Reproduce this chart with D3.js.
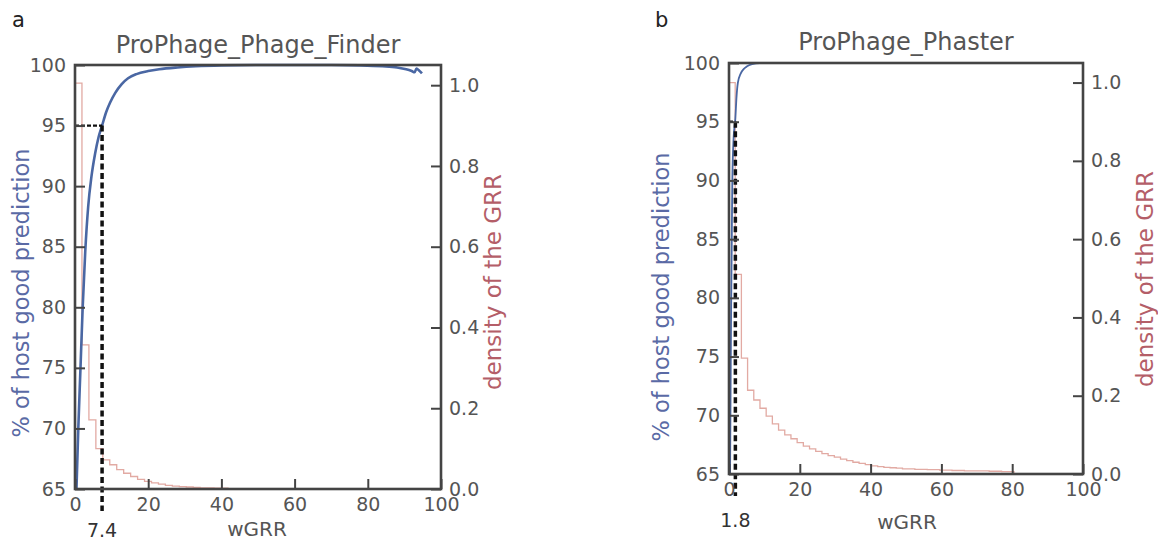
<!DOCTYPE html>
<html>
<head>
<meta charset="utf-8">
<script src="https://cdn.jsdelivr.net/npm/d3@7"></script>
<style>
html,body{margin:0;padding:0;background:#fff;}
svg{display:block;}
text{font-family:"DejaVu Sans",sans-serif;}
</style>
</head>
<body>
<svg id="chart" width="1158" height="548"></svg>
<script>
// ---------- data ----------
const xTicks = [0, 20, 40, 60, 80, 100];
const leftTicks = [65, 70, 75, 80, 85, 90, 95, 100];
const rightTicks = [0.0, 0.2, 0.4, 0.6, 0.8, 1.0];

// Panel a: ProPhage_Phage_Finder
const titleA = "ProPhage_Phage_Finder";
const curveA_x = [0.4, 0.9, 1.5, 2.1, 2.8, 3.6, 4.5, 5.5, 6.4, 7.4, 8.5, 9.6, 11.0, 12.7, 14.5, 16.8, 20, 23, 28, 33, 40, 50, 60, 70, 78, 84, 88, 90.5, 92, 92.8, 93.3, 94, 94.8];
const curveA_y = [65, 70, 75, 80, 84.6, 88.3, 90.8, 92.7, 94.0, 95, 96.1, 96.9, 97.7, 98.4, 98.9, 99.25, 99.5, 99.65, 99.8, 99.9, 99.97, 100, 100, 100, 99.97, 99.9, 99.8, 99.65, 99.5, 99.4, 99.7, 99.55, 99.3];
const histA_edges = [0, 1.9, 3.8, 5.7, 7.6, 9.5, 11.4, 13.3, 15.2, 17.1, 19, 20.9, 22.8, 24.7, 26.6, 28.5, 30.4, 32.3, 34.2, 36.1, 38, 39.9, 41.8, 43.7, 45.6];
const histA_vals  = [1.005, 0.357, 0.171, 0.100, 0.072, 0.060, 0.048, 0.039, 0.031, 0.024, 0.019, 0.015, 0.012, 0.009, 0.007, 0.006, 0.005, 0.004, 0.003, 0.003, 0.002, 0.002, 0.001, 0.001];
const thresholdA = 7.4;
const thresholdA_label = "7.4";

// Panel b: ProPhage_Phaster
const titleB = "ProPhage_Phaster";
const curveB_x = [0.3, 0.45, 0.6, 0.76, 0.93, 1.3, 1.8, 2.1, 2.5, 3.3, 4.2, 5.0, 6.5, 8.7, 30, 60, 100];
const curveB_y = [65, 72, 79, 84, 89.8, 93.6, 95.3, 97.0, 98.3, 99.1, 99.5, 99.7, 99.9, 100, 100, 100, 100];
const histB_edges = [0, 1.75, 3.5, 5.25, 7.0, 8.75, 10.5, 12.25, 14.0, 15.75, 17.5, 19.25, 21.0, 22.75, 24.5, 26.25, 28.0, 29.75, 31.5, 33.25, 35.0, 36.75, 38.5, 40.25, 42.0, 43.75, 45.5, 47.25, 49.0, 52.5, 56.0, 59.5, 63.0, 66.5, 70.0, 73.5, 77.0, 80.5];
const histB_vals  = [1.0, 0.51, 0.296, 0.214, 0.189, 0.168, 0.148, 0.128, 0.112, 0.100, 0.090, 0.080, 0.071, 0.064, 0.058, 0.052, 0.047, 0.043, 0.038, 0.034, 0.030, 0.027, 0.024, 0.021, 0.019, 0.017, 0.016, 0.015, 0.013, 0.012, 0.011, 0.010, 0.009, 0.008, 0.008, 0.007, 0.006];
const thresholdB = 1.8;
const thresholdB_label = "1.8";

const xLabel = "wGRR";
const leftLabel = "% of host good prediction";
const rightLabel = "density of the GRR";

// ---------- styles ----------
const AXIS = "#444";
const TXT = "#555";
const BLUE = "#4a67a3";
const BLUE_LBL = "#5a6aa5";
const RED_LBL = "#b45e68";
const HIST = "#e2aaa3";

const svg = d3.select("#chart");

function panel(cfg) {
  const x = d3.scaleLinear().domain([0, 100]).range([cfg.left, cfg.right]);
  const y = d3.scaleLinear().domain([65, 100]).range([cfg.bottom, cfg.top]);
  const y2 = d3.scaleLinear().domain([0, 1.05]).range([cfg.bottom, cfg.top]);
  const g = svg.append("g");

  // histogram (step outline)
  const pts = [[cfg.histEdges[0], 0]];
  cfg.histVals.forEach((v, i) => {
    pts.push([cfg.histEdges[i], v]);
    pts.push([cfg.histEdges[i + 1], v]);
  });
  pts.push([cfg.histEdges[cfg.histEdges.length - 1], 0]);
  g.append("path")
    .attr("d", d3.line().x(d => x(d[0])).y(d => y2(d[1]))(pts))
    .attr("fill", "none").attr("stroke", HIST).attr("stroke-width", 1.3);

  // blue curve
  const cdata = cfg.cx.map((v, i) => [v, cfg.cy[i]]);
  g.append("path")
    .attr("d", d3.line().x(d => x(d[0])).y(d => y(d[1])).curve(d3.curveMonotoneX)(cdata))
    .attr("fill", "none").attr("stroke", BLUE).attr("stroke-width", cfg.blueW)
    .attr("stroke-linejoin", "round");

  // threshold dashed lines
  g.append("line")
    .attr("x1", x(0)).attr("x2", x(cfg.thr))
    .attr("y1", y(95)).attr("y2", y(95))
    .attr("stroke", "#111").attr("stroke-width", 2.2).attr("stroke-dasharray", "4,2");
  g.append("line")
    .attr("x1", x(cfg.thr)).attr("x2", x(cfg.thr))
    .attr("y1", y(95)).attr("y2", cfg.bottom + 22)
    .attr("stroke", "#111").attr("stroke-width", 3.5).attr("stroke-dasharray", "6,3.5");

  // axes
  const tl = 10;
  const ax = d3.axisBottom(x).tickValues(xTicks).tickSizeInner(-tl).tickSizeOuter(0).tickPadding(0).tickFormat(d3.format("d"));
  const ayL = d3.axisLeft(y).tickValues(leftTicks).tickSizeInner(-tl).tickSizeOuter(0).tickFormat(d3.format("d"));
  const ayR = d3.axisRight(y2).tickValues(rightTicks).tickSizeInner(-tl).tickSizeOuter(0).tickFormat(d3.format(".1f"));

  const gx = g.append("g").attr("transform", `translate(0,${cfg.bottom})`).call(ax);
  gx.selectAll("text").attr("y", 22).attr("dy", null);
  const gl = g.append("g").attr("transform", `translate(${cfg.left},0)`).call(ayL);
  gl.selectAll("text").attr("x", -9);
  const gr = g.append("g").attr("transform", `translate(${cfg.right},0)`).call(ayR);
  gr.selectAll("text").attr("x", 8);
  [gx, gl, gr].forEach(a => {
    a.select(".domain").remove();
    a.selectAll(".tick line").attr("stroke", AXIS).attr("stroke-width", 2);
    a.selectAll("text").attr("fill", TXT).style("font-size", "19px")
      .style("font-family", '"DejaVu Sans", sans-serif');
  });

  // frame (spines)
  g.append("rect")
    .attr("x", cfg.left).attr("y", cfg.top)
    .attr("width", cfg.right - cfg.left).attr("height", cfg.bottom - cfg.top)
    .attr("fill", "none").attr("stroke", AXIS).attr("stroke-width", 2.6);

  // texts
  g.append("text").attr("x", (cfg.left + cfg.right) / 2).attr("y", cfg.titleY)
    .attr("text-anchor", "middle").attr("fill", TXT).style("font-size", "24px").text(cfg.title);
  g.append("text").attr("x", cfg.letterX).attr("y", 27)
    .attr("fill", "#222").style("font-size", "21px").text(cfg.letter);
  g.append("text").attr("x", cfg.xlabX).attr("y", cfg.xlabY)
    .attr("text-anchor", "middle").attr("fill", TXT).style("font-size", "20px").text(xLabel);
  g.append("text").attr("x", x(cfg.thr)).attr("y", cfg.thrLabY)
    .attr("text-anchor", "middle").attr("fill", "#333").style("font-size", "19px").text(cfg.thrLabel);
  g.append("text").attr("transform", `translate(${cfg.lLabX},${cfg.lLabY}) rotate(-90)`)
    .attr("text-anchor", "middle").attr("fill", BLUE_LBL).style("font-size", "22.5px").text(leftLabel);
  g.append("text").attr("transform", `translate(${cfg.rLabX},${cfg.rLabY}) rotate(-90)`)
    .attr("text-anchor", "middle").attr("fill", RED_LBL).style("font-size", "23px").text(rightLabel);
}

panel({
  left: 75, right: 441, top: 65, bottom: 489,
  cx: curveA_x, cy: curveA_y, histEdges: histA_edges, histVals: histA_vals,
  thr: thresholdA, thrLabel: thresholdA_label, thrLabY: 537,
  blueW: 2.6, title: titleA, titleY: 53, letter: "a", letterX: 12,
  xlabX: 257, xlabY: 536, lLabX: 29, lLabY: 293, rLabX: 501, rLabY: 282
});
panel({
  left: 729, right: 1083, top: 63, bottom: 474,
  cx: curveB_x, cy: curveB_y, histEdges: histB_edges, histVals: histB_vals,
  thr: thresholdB, thrLabel: thresholdB_label, thrLabY: 527,
  blueW: 1.8, title: titleB, titleY: 50, letter: "b", letterX: 655,
  xlabX: 907, xlabY: 529, lLabX: 669, lLabY: 297, rLabX: 1153, rLabY: 279
});
</script>
</body>
</html>
